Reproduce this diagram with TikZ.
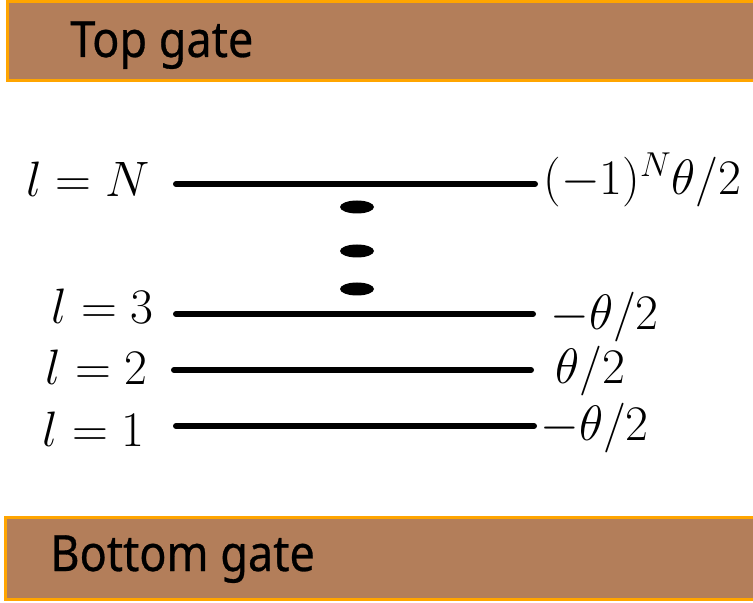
\documentclass[tikz,border=0pt]{standalone}
\usepackage{fontspec}
\setsansfont{Noto Sans}[FakeBold=0.6]
\definecolor{gatefill}{RGB}{179,126,90}
\definecolor{gateedge}{RGB}{255,165,0}

\tikzset{
  gatebox/.style={fill=gatefill, draw=gateedge, line width=1.5pt},
  gatetext/.style={inner sep=0pt, anchor=base west, xscale=0.9, font=\sffamily\bfseries\fontsize{25}{30}\selectfont},
  lvline/.style={line width=3pt, line cap=round},
  lvlabel/.style={inner sep=0pt, font=\fontsize{25}{30}\selectfont},
  lvdot/.style={fill=black}
}

\begin{document}
\begin{tikzpicture}[x=0.5pt, y=-0.5pt]
\useasboundingbox (0,0) rectangle (753,603);

\draw[gatebox] (7,2) rectangle (760,81);
\node[gatetext] (topgate) at (70,57) {Top gate};
\draw[gatebox] (5,517) rectangle (760,599);
\node[gatetext] (botgate) at (50,571) {Bottom gate};

\coordinate (sN) at (176,184);
\coordinate (eN) at (535,184);
\coordinate (s3) at (176,314);
\coordinate (e3) at (533,314);
\coordinate (s2) at (174,370);
\coordinate (e2) at (531,370);
\coordinate (s1) at (176,426);
\coordinate (e1) at (534,426);

\draw[lvline] (sN) -- (eN);
\draw[lvline] (s3) -- (e3);
\draw[lvline] (s2) -- (e2);
\draw[lvline] (s1) -- (e1);

\node[lvlabel, anchor=base east] (lN) at (150,197) {$l=N$};
\node[lvlabel, anchor=base east] (l3) at (154,324) {$l=3$};
\node[lvlabel, anchor=base east] (l2) at (148,385) {$l=2$};
\node[lvlabel, anchor=base east] (l1) at (145,446) {$l=1$};

\node[lvlabel, anchor=base west] (rN) at (543,195) {$(-1)^N\theta/2$};
\node[lvlabel, anchor=base west] (r3) at (550,330) {$-\theta/2$};
\node[lvlabel, anchor=base west] (r2) at (555,383) {$\theta/2$};
\node[lvlabel, anchor=base west] (r1) at (540,440) {$-\theta/2$};

\fill[lvdot] (357,207) ellipse [x radius=17, y radius=6.5];
\fill[lvdot] (357,251) ellipse [x radius=17, y radius=6.5];
\fill[lvdot] (357,289) ellipse [x radius=17, y radius=6.5];
\end{tikzpicture}
\end{document}
